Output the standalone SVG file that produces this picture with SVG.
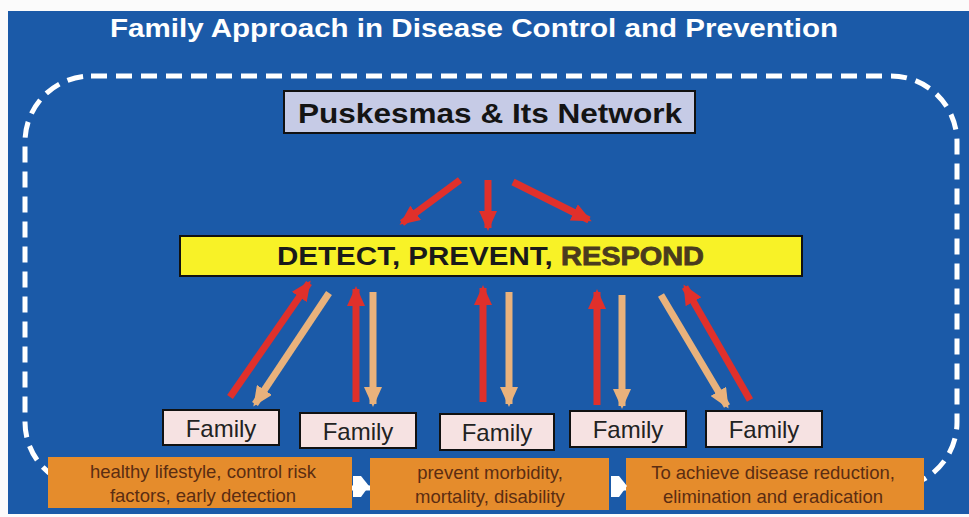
<svg xmlns="http://www.w3.org/2000/svg" width="969" height="517" viewBox="0 0 969 517">
<style>
.bg{fill:#1b5aa8}
.frame{fill:none;stroke:#ffffff;stroke-width:5;stroke-dasharray:16 9}
.red{stroke:#e0302b;stroke-width:7;fill:none}
.tan{stroke:#e9b27c;stroke-width:7;fill:none}
.fam rect{fill:#f6e2e2;stroke:#111;stroke-width:2}
.fam text{font-family:"Liberation Sans",Arial,sans-serif;font-size:24px;fill:#222;text-anchor:middle}
.org rect{fill:#e58c2c}
.org text{font-family:"Liberation Sans",Arial,sans-serif;font-size:18.5px;fill:#5b2d12;text-anchor:middle}
.title{font-family:"Liberation Sans",Arial,sans-serif;font-size:26px;font-weight:bold;fill:#ffffff}
</style>
<defs>
<marker id="hr" markerUnits="userSpaceOnUse" markerWidth="20" markerHeight="18" refX="17" refY="9" orient="auto">
<path d="M0,0 L20,9 L0,18 Z" fill="#e0302b"/>
</marker>
<marker id="ht" markerUnits="userSpaceOnUse" markerWidth="20" markerHeight="18" refX="17" refY="9" orient="auto">
<path d="M0,0 L20,9 L0,18 Z" fill="#e9b27c"/>
</marker>
</defs>
<rect x="0" y="0" width="969" height="517" fill="#fbfbfb"/>
<rect class="bg" x="8" y="11" width="961" height="503"/>
<text class="title" x="110" y="37" textLength="728" lengthAdjust="spacingAndGlyphs">Family Approach in Disease Control and Prevention</text>
<rect class="frame" x="25" y="76" width="932" height="412" rx="66" ry="66"/>

<g id="puskesmas">
<rect x="284" y="91" width="411" height="42" fill="#c6cbe6" stroke="#111" stroke-width="2"/>
<text x="298" y="123" font-family="'Liberation Sans',Arial,sans-serif" font-size="28" font-weight="bold" fill="#141414" textLength="384" lengthAdjust="spacingAndGlyphs">Puskesmas &amp; Its Network</text>
</g>

<g id="dpr">
<rect x="180" y="236" width="622" height="40" fill="#f8f227" stroke="#111" stroke-width="2"/>
<text x="277" y="265" font-family="'Liberation Sans',Arial,sans-serif" font-size="25" font-weight="bold" fill="#1a1a1a"><tspan textLength="284" lengthAdjust="spacingAndGlyphs">DETECT, PREVENT, </tspan><tspan x="561" fill="#4a3b1e" textLength="143" lengthAdjust="spacingAndGlyphs" stroke="#4a3b1e" stroke-width="0.8">RESPOND</tspan></text>
</g>

<g id="connectors">
<line class="red" x1="460" y1="180" x2="402" y2="223" marker-end="url(#hr)"/>
<line class="red" x1="488" y1="180" x2="488" y2="228" marker-end="url(#hr)"/>
<line class="red" x1="513" y1="182" x2="589" y2="220" marker-end="url(#hr)"/>

<line class="red" x1="230" y1="397" x2="309" y2="283" marker-end="url(#hr)"/>
<line class="tan" x1="329" y1="293" x2="255" y2="404" marker-end="url(#ht)"/>
<line class="red" x1="356" y1="402" x2="356" y2="289" marker-end="url(#hr)"/>
<line class="tan" x1="373" y1="292" x2="373" y2="404" marker-end="url(#ht)"/>
<line class="red" x1="483" y1="402" x2="483" y2="288" marker-end="url(#hr)"/>
<line class="tan" x1="509" y1="292" x2="509" y2="404" marker-end="url(#ht)"/>
<line class="red" x1="597" y1="405" x2="597" y2="292" marker-end="url(#hr)"/>
<line class="tan" x1="622" y1="295" x2="622" y2="406" marker-end="url(#ht)"/>
<line class="tan" x1="661" y1="295" x2="727" y2="406" marker-end="url(#ht)"/>
<line class="red" x1="750" y1="400" x2="685" y2="287" marker-end="url(#hr)"/>
</g>

<g id="family1" class="fam"><rect x="163" y="410" width="116" height="35"/><text x="221" y="437">Family</text></g>
<g id="family2" class="fam"><rect x="300" y="413" width="116" height="35"/><text x="358" y="440">Family</text></g>
<g id="family3" class="fam"><rect x="440" y="414" width="114" height="36"/><text x="497" y="441">Family</text></g>
<g id="family4" class="fam"><rect x="570" y="411" width="116" height="36"/><text x="628" y="438">Family</text></g>
<g id="family5" class="fam"><rect x="706" y="411" width="116" height="36"/><text x="764" y="438">Family</text></g>

<g id="outcome1" class="org"><rect x="48" y="457" width="304" height="51"/><text x="203" y="478">healthy lifestyle, control risk</text><text x="203" y="502">factors, early detection</text></g>
<g id="outcome2" class="org"><rect x="370" y="458" width="239" height="52"/><text x="490" y="479">prevent morbidity,</text><text x="490" y="503">mortality, disability</text></g>
<g id="outcome3" class="org"><rect x="626" y="458" width="298" height="52"/><text x="773" y="479">To achieve disease reduction,</text><text x="773" y="503">elimination and eradication</text></g>

<g id="flow-arrows" fill="#ffffff">
<polygon points="353,476 361,476 369,486 361,497 353,497"/>
<polygon points="611,476 619,476 627,486 619,497 611,497"/>
</g>
</svg>
